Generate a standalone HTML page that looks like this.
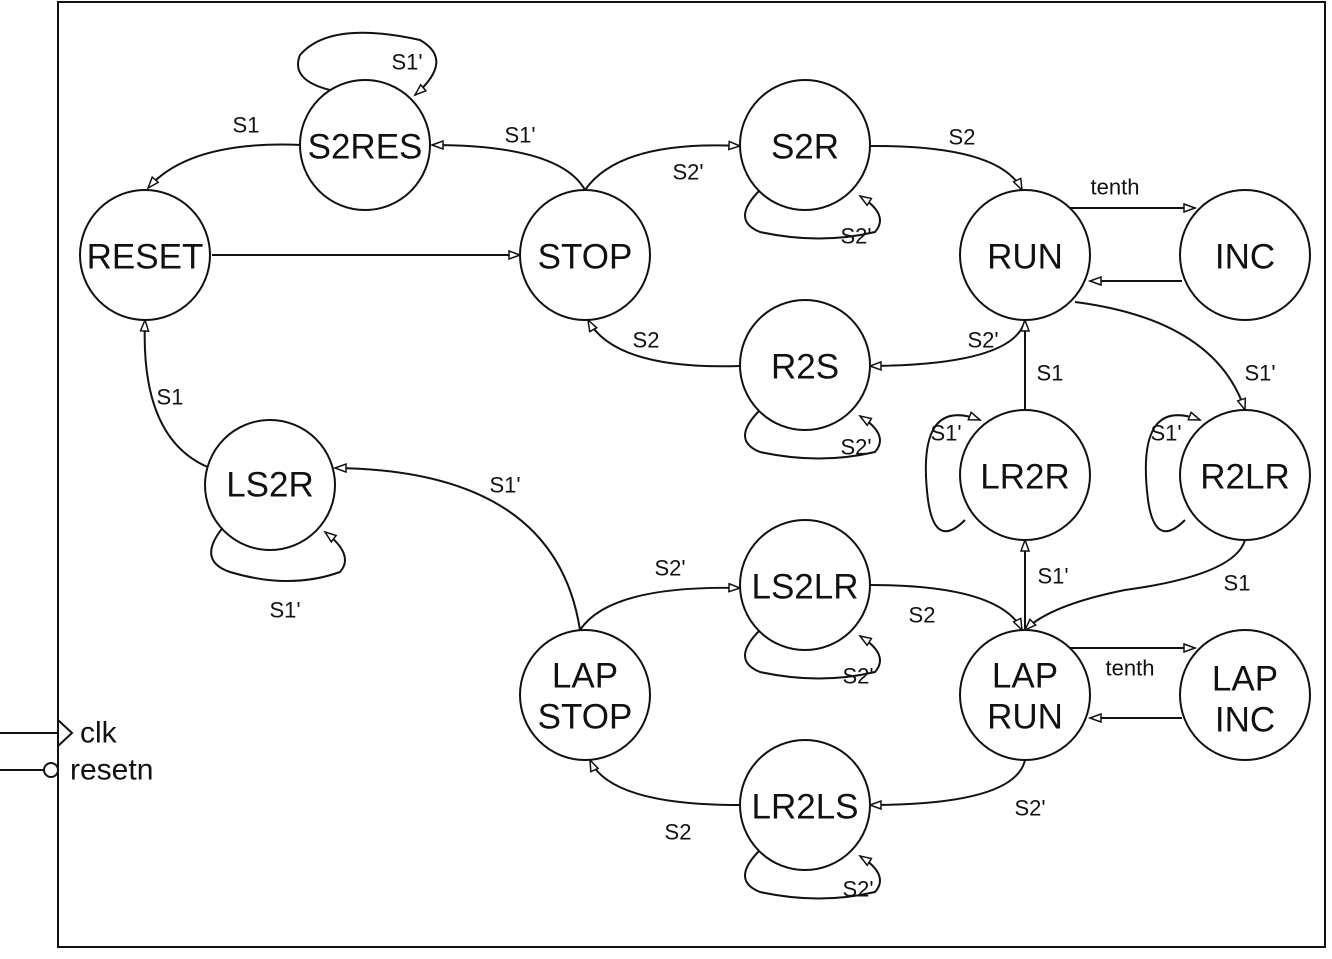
<!DOCTYPE html>
<html><head><meta charset="utf-8"><style>
html,body{margin:0;padding:0;background:#fff;}
svg{display:block;}
text{font-family:"Liberation Sans",Arial,sans-serif;fill:#111;}
.s{font-size:35px;text-anchor:middle;dominant-baseline:central;}
.l{font-size:22px;text-anchor:middle;dominant-baseline:central;}
</style></head><body>
<svg width="1332" height="959" viewBox="0 0 1332 959" xmlns="http://www.w3.org/2000/svg">
<defs>
<marker id="a" markerWidth="14" markerHeight="10" refX="12" refY="5" orient="auto" markerUnits="userSpaceOnUse">
<path d="M1,1 L12,5 L1,9 Z" fill="#fff" stroke="#111" stroke-width="1.5"/>
</marker>
</defs>
<rect x="58" y="2" width="1267" height="945" fill="#fff" stroke="#111" stroke-width="2"/>
<line x1="0" y1="733" x2="58" y2="733" stroke="#111" stroke-width="2"/>
<path d="M58,720 L72,733 L58,746" fill="none" stroke="#111" stroke-width="2"/>
<text x="80" y="733" style="font-size:30px" dominant-baseline="central">clk</text>
<line x1="0" y1="770" x2="44" y2="770" stroke="#111" stroke-width="2"/>
<circle cx="51" cy="770" r="7" fill="#fff" stroke="#111" stroke-width="2"/>
<text x="70" y="770" style="font-size:30px" dominant-baseline="central">resetn</text>

<g fill="none" stroke="#111" stroke-width="2" marker-end="url(#a)">
<path d="M302,145 Q190,140 148,188"/>
<path d="M585,190 Q560,145 432,145"/>
<path d="M585,190 Q620,140 740,146"/>
<path d="M870,146 Q1000,145 1022,190"/>
<path d="M212,255 L520,255"/>
<path d="M1070,208 L1195,208"/>
<path d="M1182,281 L1090,281"/>
<path d="M1025,320 Q1015,365 870,366"/>
<path d="M740,366 Q615,370 588,320"/>
<path d="M1075,302 Q1215,320 1245,410"/>
<path d="M1025,410 L1025,320"/>
<path d="M1245,540 Q1235,575 1125,590 Q1050,605 1025,630"/>
<path d="M1025,630 L1025,540"/>
<path d="M870,585 Q1000,585 1022,630"/>
<path d="M580,630 Q610,585 740,588"/>
<path d="M580,630 Q555,470 335,468"/>
<path d="M210,468 Q140,440 145,320"/>
<path d="M1070,648 L1195,648"/>
<path d="M1182,718 L1090,718"/>
<path d="M1025,760 Q1015,805 870,805"/>
<path d="M740,805 Q610,805 590,760"/>
<path d="M330,90 Q290,80 300,55 Q330,20 420,40 Q455,60 415,95"/>
<path d="M760,190 Q730,220 760,232 Q820,245 875,232 Q890,215 860,196"/>
<path d="M760,410 Q730,440 760,452 Q820,465 875,452 Q890,435 860,416"/>
<path d="M225,525 Q195,560 230,572 Q290,590 340,572 Q355,555 325,532"/>
<path d="M760,630 Q730,660 760,672 Q820,685 875,672 Q890,655 860,636"/>
<path d="M760,850 Q730,880 760,892 Q820,905 875,892 Q890,875 860,856"/>
<path d="M965,520 Q935,550 928,500 Q915,395 980,420"/>
<path d="M1185,520 Q1155,550 1148,500 Q1135,395 1200,420"/>
</g>

<g fill="#fff" stroke="#111" stroke-width="2">
<circle cx="365" cy="145" r="65"/>
<circle cx="145" cy="255" r="65"/>
<circle cx="585" cy="255" r="65"/>
<circle cx="805" cy="145" r="65"/>
<circle cx="1025" cy="255" r="65"/>
<circle cx="1245" cy="255" r="65"/>
<circle cx="805" cy="365" r="65"/>
<circle cx="1025" cy="475" r="65"/>
<circle cx="1245" cy="475" r="65"/>
<circle cx="270" cy="485" r="65"/>
<circle cx="805" cy="585" r="65"/>
<circle cx="585" cy="695" r="65"/>
<circle cx="1025" cy="695" r="65"/>
<circle cx="1245" cy="695" r="65"/>
<circle cx="805" cy="805" r="65"/>
</g>

<text class="s" x="365" y="147">S2RES</text>
<text class="s" x="145" y="257">RESET</text>
<text class="s" x="585" y="257">STOP</text>
<text class="s" x="805" y="147">S2R</text>
<text class="s" x="1025" y="257">RUN</text>
<text class="s" x="1245" y="257">INC</text>
<text class="s" x="805" y="367">R2S</text>
<text class="s" x="1025" y="477">LR2R</text>
<text class="s" x="1245" y="477">R2LR</text>
<text class="s" x="270" y="485">LS2R</text>
<text class="s" x="805" y="587">LS2LR</text>
<text class="s" x="585" y="676">LAP</text>
<text class="s" x="585" y="717">STOP</text>
<text class="s" x="1025" y="676">LAP</text>
<text class="s" x="1025" y="717">RUN</text>
<text class="s" x="1245" y="679">LAP</text>
<text class="s" x="1245" y="720">INC</text>
<text class="s" x="805" y="807">LR2LS</text>

<text class="l" x="246" y="125">S1</text>
<text class="l" x="407" y="62">S1'</text>
<text class="l" x="520" y="135">S1'</text>
<text class="l" x="688" y="172">S2'</text>
<text class="l" x="962" y="137">S2</text>
<text class="l" x="856" y="236">S2'</text>
<text class="l" x="1115" y="187">tenth</text>
<text class="l" x="983" y="340">S2'</text>
<text class="l" x="646" y="340">S2</text>
<text class="l" x="1050" y="373">S1</text>
<text class="l" x="1260" y="373">S1'</text>
<text class="l" x="170" y="397">S1</text>
<text class="l" x="856" y="447">S2'</text>
<text class="l" x="946" y="433">S1'</text>
<text class="l" x="1166" y="433">S1'</text>
<text class="l" x="505" y="485">S1'</text>
<text class="l" x="670" y="568">S2'</text>
<text class="l" x="1053" y="576">S1'</text>
<text class="l" x="1237" y="583">S1</text>
<text class="l" x="285" y="610">S1'</text>
<text class="l" x="922" y="615">S2</text>
<text class="l" x="858" y="676">S2'</text>
<text class="l" x="1130" y="668">tenth</text>
<text class="l" x="1030" y="808">S2'</text>
<text class="l" x="678" y="832">S2</text>
<text class="l" x="858" y="889">S2'</text>
</svg>
</body></html>
